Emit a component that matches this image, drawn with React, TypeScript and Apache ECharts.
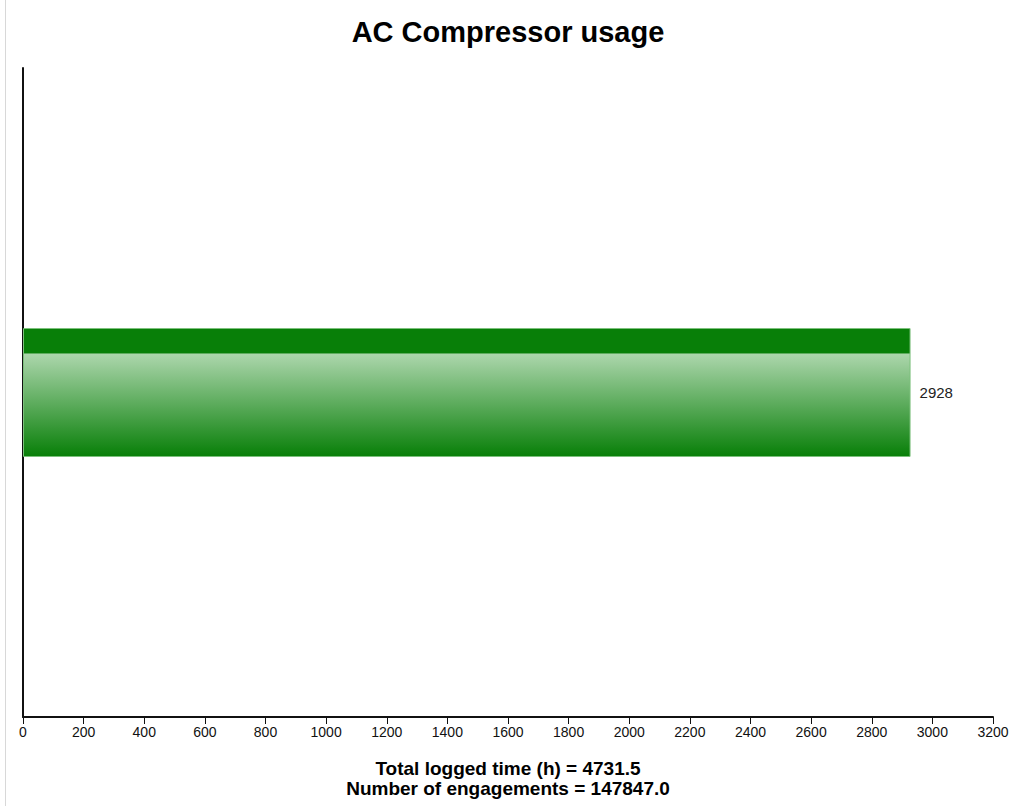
import React, { useEffect, useRef } from "react";
import * as echarts from "echarts";

const categories = ["AC Compressor"];
const values = [2928];
const xTicks = { min: 0, max: 3200, interval: 200 };
const titleText = "AC Compressor usage";
const footerLines = ["Total logged time (h) = 4731.5", "Number of engagements = 147847.0"];

export default function App() {
  const ref = useRef<HTMLDivElement>(null);
  useEffect(() => {
    document.body.style.margin = "0";
    const chart = echarts.init(ref.current!, undefined, { renderer: "svg" });
    const font = "Arial, 'Liberation Sans', sans-serif";
    chart.setOption({
      animation: false,
      backgroundColor: "#fff",
      title: {
        text: titleText,
        left: "center",
        top: 12,
        textStyle: { fontFamily: font, fontSize: 29, fontWeight: "bold", color: "#000" },
      },
      grid: { left: 23, right: 23, top: 68, bottom: 89, containLabel: false },
      xAxis: {
        type: "value",
        min: xTicks.min,
        max: xTicks.max,
        interval: xTicks.interval,
        axisLine: { show: true, lineStyle: { color: "#111", width: 2 } },
        axisTick: { show: true, length: 7, lineStyle: { color: "#111", width: 1 } },
        axisLabel: {
          fontFamily: font,
          fontSize: 14,
          color: "#111",
          margin: 8,
          formatter: (v: number) => String(v),
        },
        splitLine: { show: false },
      },
      yAxis: {
        type: "category",
        data: categories,
        axisLine: { show: true, lineStyle: { color: "#111", width: 2 } },
        axisTick: { show: false },
        axisLabel: { show: false },
      },
      series: [
        {
          type: "bar",
          data: values,
          barWidth: 129,
          itemStyle: {
            borderColor: "#7cc07c",
            borderWidth: 1,
            color: new echarts.graphic.LinearGradient(0, 0, 0, 1, [
              { offset: 0, color: "#087f08" },
              { offset: 0.19, color: "#087f08" },
              { offset: 0.2, color: "#acd6ac" },
              { offset: 1, color: "#087f08" },
            ]),
          },
          label: {
            show: true,
            position: "right",
            distance: 9,
            fontFamily: font,
            fontSize: 15,
            color: "#222",
          },
        },
      ],
      graphic: [
        {
          type: "line",
          shape: { x1: 5.5, y1: 0, x2: 5.5, y2: 806 },
          style: { stroke: "#d8d8d8", lineWidth: 1 },
        },
        {
          type: "text",
          left: "center",
          top: 759,
          style: {
            text: footerLines[0],
            font: `bold 19px ${font}`,
            fill: "#000",
          },
        },
        {
          type: "text",
          left: "center",
          top: 779,
          style: {
            text: footerLines[1],
            font: `bold 19px ${font}`,
            fill: "#000",
          },
        },
      ],
    });
    return () => chart.dispose();
  }, []);
  return <div ref={ref} style={{ width: 1016, height: 806 }} />;
}
